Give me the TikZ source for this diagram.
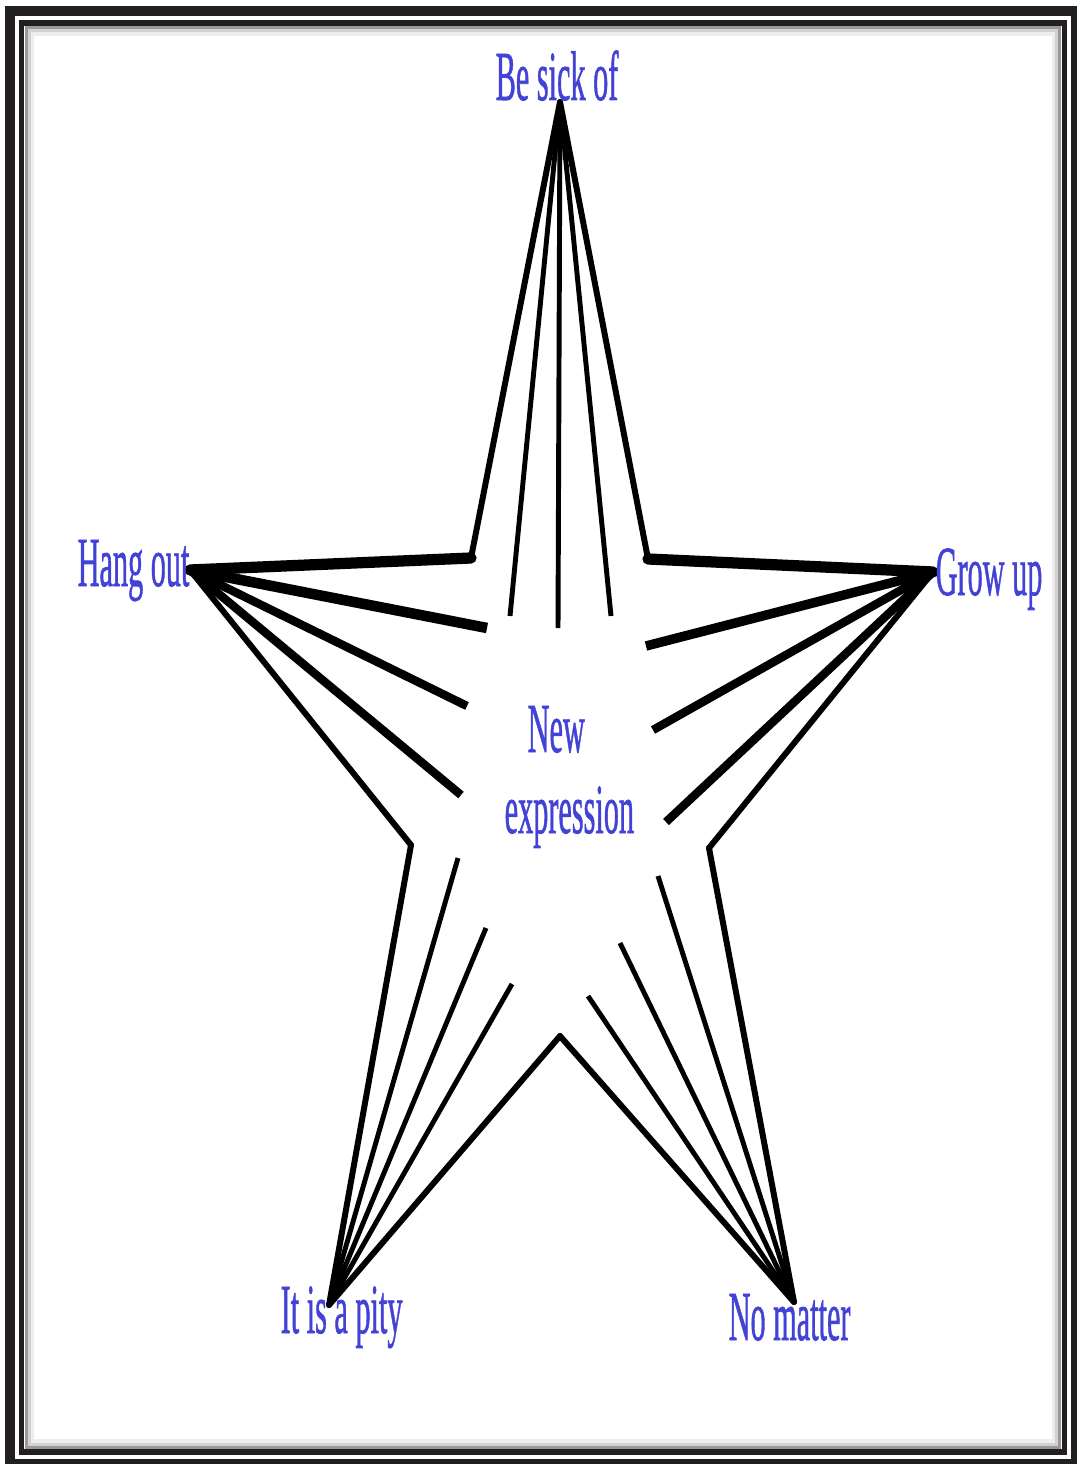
\documentclass[tikz,border=0pt]{standalone}
\usepackage{fontspec}
\setmainfont{Liberation Serif}
\newfontfamily\phrasefont{Liberation Serif}[FakeBold=1.2]
\usepackage{graphicx}
\definecolor{phraseblue}{RGB}{66,66,214}
\definecolor{frameblack}{RGB}{35,31,32}
\newcommand{\slimtext}[1]{\scalebox{0.43}[1]{#1}}

\begin{document}
\begin{tikzpicture}[
  x=0.01cm, y=-0.01cm,
  phrase/.style={
    font=\phrasefont\fontsize{20}{24}\selectfont, text=phraseblue,
    inner sep=0pt, anchor=base west
  },
  rim/.style={line width=1.7pt, line cap=round},
  heavyrim/.style={line width=3.2pt, line cap=round},
  ray/.style={line width=1.4pt},
  boldray/.style={line width=2.4pt}
]
\useasboundingbox (0,0) rectangle (1076,1464);

% =====================================================================
% Frame
% =====================================================================
\draw[frameblack, line width=2.85pt] (10,11) rectangle (1076,1464);
\draw[frameblack, line width=1.45pt] (21.5,23) rectangle (1064.5,1452);
\draw[black!40, line width=0.9pt] (26.5,28) rectangle (1059.5,1447);
\draw[black!18, line width=0.9pt] (29.5,31) rectangle (1056.5,1444);
\draw[black!7, line width=0.9pt] (32.5,34) rectangle (1053.5,1441);

% =====================================================================
% Star points and inner corners
% =====================================================================
\coordinate (sick) at (560,102);
\coordinate (hang) at (190,570);
\coordinate (grow) at (933,572);
\coordinate (pity) at (329,1305);
\coordinate (matter) at (794,1302);

\coordinate (topleft) at (471,558);
\coordinate (topright) at (648,559);
\coordinate (rightin) at (709,848);
\coordinate (bottomin) at (560,1036);
\coordinate (leftin) at (411,845);

% ends of the rays towards the middle
\coordinate (s1) at (510,616);
\coordinate (s2) at (558,628);
\coordinate (s3) at (611,616);
\coordinate (h1) at (487,628);
\coordinate (h2) at (467,706);
\coordinate (h3) at (461,795);
\coordinate (g1) at (646,646);
\coordinate (g2) at (653,730);
\coordinate (g3) at (666,822);
\coordinate (p1) at (458,858);
\coordinate (p2) at (486,928);
\coordinate (p3) at (512,984);
\coordinate (m1) at (658,876);
\coordinate (m2) at (620,943);
\coordinate (m3) at (588,996);

% =====================================================================
% Star outline
% =====================================================================
\draw[rim] (sick) -- (topleft);
\draw[heavyrim] (topleft) -- (hang);
\draw[rim] (hang) -- (leftin);
\draw[rim] (leftin) -- (pity);
\draw[rim] (pity) -- (bottomin);
\draw[rim] (bottomin) -- (matter);
\draw[rim] (matter) -- (rightin);
\draw[rim] (rightin) -- (grow);
\draw[heavyrim] (grow) -- (topright);
\draw[rim] (topright) -- (sick);

% =====================================================================
% Rays
% =====================================================================
% -- Be sick of --
\draw[ray] (sick) -- (s1);
\draw[ray] (sick) -- (s2);
\draw[ray] (sick) -- (s3);

% -- Hang out --
\draw[boldray, line width=3pt] (hang) -- (h1);
\draw[boldray] (hang) -- (h2);
\draw[boldray] (hang) -- (h3);

% -- Grow up --
\draw[boldray, line width=2.7pt] (grow) -- (g1);
\draw[boldray] (grow) -- (g2);
\draw[boldray] (grow) -- (g3);

% -- It is a pity --
\draw[ray] (pity) -- (p1);
\draw[ray] (pity) -- (p2);
\draw[ray] (pity) -- (p3);

% -- No matter --
\draw[ray] (matter) -- (m1);
\draw[ray] (matter) -- (m2);
\draw[ray] (matter) -- (m3);

% =====================================================================
% Labels
% =====================================================================
\node[phrase] (besick) at (495,100) {\slimtext{Be sick of}};
\node[phrase] (hangout) at (77,586) {\slimtext{Hang out}};
\node[phrase] (growup) at (935,595) {\slimtext{Grow up}};
\node[phrase] (newword) at (527,752) {\slimtext{New}};
\node[phrase] (exprword) at (504,833) {\slimtext{expression}};
\node[phrase] (itpity) at (280,1333) {\slimtext{It is a pity}};
\node[phrase] (nomatter) at (728,1340) {\slimtext{No matter}};

\end{tikzpicture}
\end{document}
